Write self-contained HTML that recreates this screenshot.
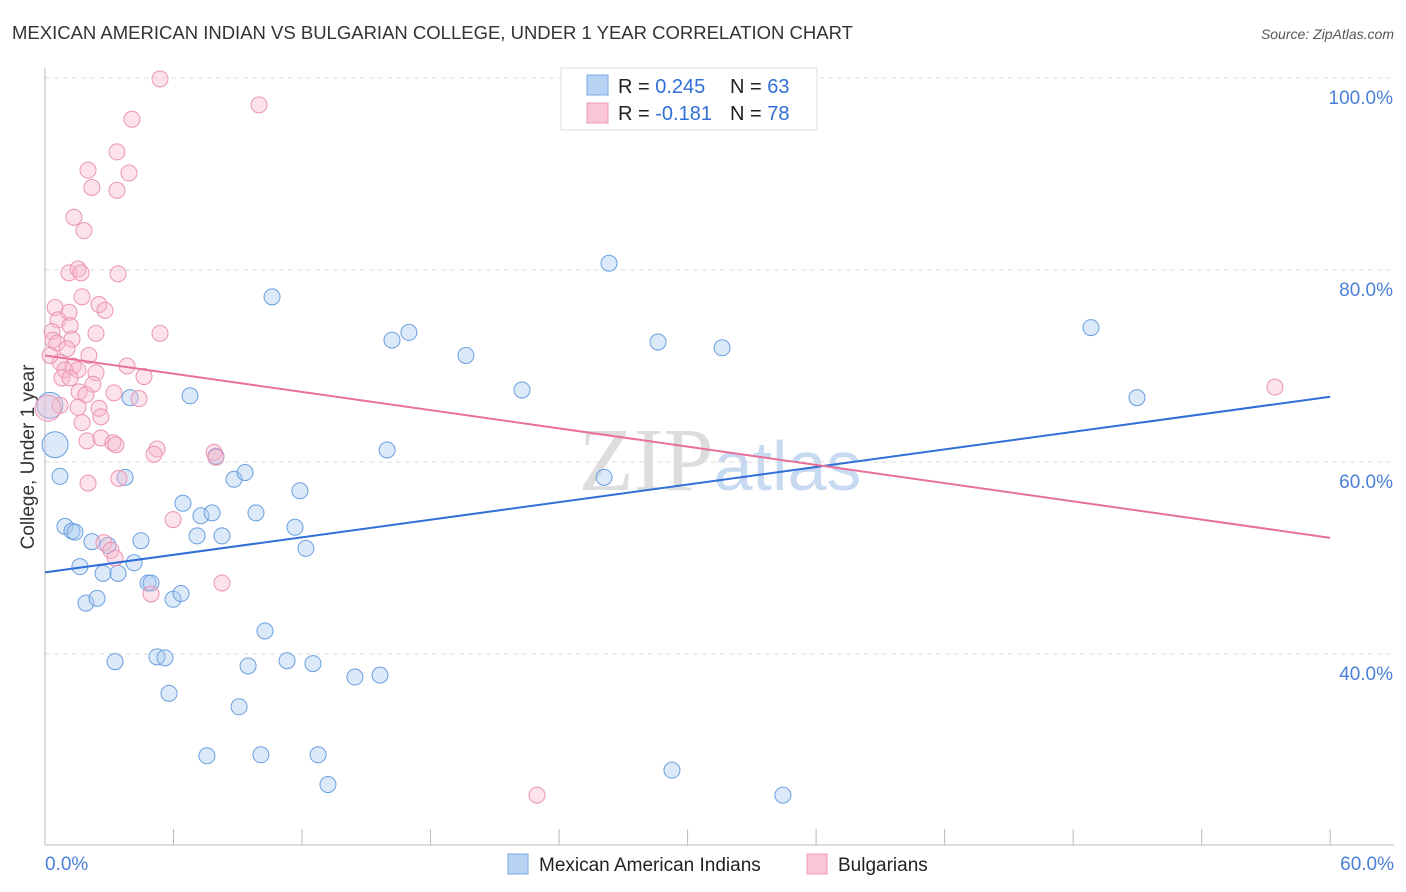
<!DOCTYPE html>
<html><head><meta charset="utf-8"><style>
body{margin:0;background:#fff;font-family:"Liberation Sans",sans-serif}
svg{display:block}
</style></head><body>
<svg id="c" width="1406" height="892">
<text x="12" y="39" font-size="18.5" fill="#333">MEXICAN AMERICAN INDIAN VS BULGARIAN COLLEGE, UNDER 1 YEAR CORRELATION CHART</text>
<text x="1394" y="39" font-size="14" fill="#555" font-style="italic" text-anchor="end">Source: ZipAtlas.com</text>
<text x="34" y="457" font-size="19" fill="#333" text-anchor="middle" transform="rotate(-90 34 457)">College, Under 1 year</text>
<text x="720" y="490" font-size="90" fill="#ddd" text-anchor="middle" font-family="Liberation Serif">ZIP<tspan fill="#c8daf2" font-family="Liberation Sans" font-size="70">atlas</tspan></text>
<g id="grid"></g><g id="pts"></g><g id="trend"></g>
<g>
<rect x="561" y="68" width="256" height="62" fill="#fff" stroke="#ddd"/>
<rect x="587" y="75" width="21" height="20" fill="#b8d2f4" stroke="#7aa8e4"/>
<rect x="587" y="103" width="21" height="20" fill="#f9c6d6" stroke="#eb98b4"/>
<text x="618" y="93" font-size="20" fill="#222">R = <tspan fill="#2f6fd6">0.245</tspan><tspan x="730">N = </tspan><tspan fill="#2f6fd6">63</tspan></text>
<text x="618" y="120" font-size="20" fill="#222">R = <tspan fill="#2f6fd6">-0.181</tspan><tspan x="730">N = </tspan><tspan fill="#2f6fd6">78</tspan></text>
</g>
<g>
<rect x="508" y="854" width="20" height="20" fill="#b8d2f4" stroke="#7aa8e4"/>
<text x="539" y="871" font-size="19" fill="#222">Mexican American Indians</text>
<rect x="807" y="854" width="20" height="20" fill="#f9c6d6" stroke="#eb98b4"/>
<text x="838" y="871" font-size="19" fill="#222">Bulgarians</text>
</g>
</svg>
<script>
const blueX=[0.23,0.47,0.7,0.93,1.26,1.4,1.63,1.91,2.19,2.43,2.71,2.94,3.27,3.41,3.74,3.97,4.16,4.48,4.81,4.95,5.23,5.6,5.79,5.98,6.35,6.44,6.77,7.1,7.28,7.56,7.8,7.98,8.26,8.82,9.06,9.34,9.48,9.85,10.08,10.27,10.6,11.3,11.67,11.9,12.18,12.51,12.75,13.21,14.47,15.64,15.97,16.2,16.99,19.65,22.27,26.1,26.33,28.62,29.27,31.61,34.45,48.83,50.98];
const blueY=[65.9,61.8,58.5,53.3,52.8,52.7,49.1,45.3,51.7,45.8,48.4,51.3,39.2,48.4,58.4,66.7,49.5,51.8,47.4,47.4,39.7,39.6,35.9,45.7,46.3,55.7,66.9,52.3,54.4,29.4,54.7,60.6,52.3,58.2,34.5,58.9,38.75,54.7,29.5,42.4,77.2,39.3,53.2,57.0,51.0,39.0,29.5,26.4,37.6,37.8,61.25,72.7,73.5,71.1,67.5,58.4,80.7,72.5,27.9,71.9,25.3,74.0,66.7];
const pinkX=[5.37,9.99,4.06,3.36,2.01,3.92,2.19,3.36,1.35,1.82,1.12,1.54,1.68,3.41,1.73,0.47,2.52,1.12,2.8,0.61,1.17,0.33,2.38,5.37,1.26,0.37,0.56,1.03,2.05,3.83,0.7,1.31,0.93,1.54,2.38,0.79,1.17,4.62,2.24,1.59,1.91,3.22,4.39,0.7,1.54,2.52,2.61,1.73,1.96,2.61,3.17,3.31,5.23,5.09,7.89,7.98,3.45,2.01,2.75,3.08,3.27,5.98,8.26,4.95,22.97,57.42,0.14,0.23];
const pinkY=[99.9,97.2,95.7,92.3,90.4,90.1,88.6,88.3,85.5,84.1,79.7,80.1,79.7,79.6,77.2,76.1,76.4,75.6,75.8,74.8,74.2,73.6,73.4,73.4,72.8,72.7,72.4,71.8,71.1,70.0,70.4,70.0,69.6,69.6,69.3,68.75,68.75,68.9,68.1,67.3,67.0,67.2,66.6,65.9,65.7,65.6,64.7,64.1,62.2,62.5,62.0,61.8,61.35,60.8,61.0,60.5,58.3,57.8,51.6,50.8,50.0,54.0,47.4,46.25,25.3,67.8,65.6,71.1];
const blueTrend=[48.5,66.8];
const pinkTrend=[71.1,52.1];
const yTicks=[100,80,60,40];
const xTickVals=[0,6,12,18,24,30,36,42,48,54,60];
const NS="http://www.w3.org/2000/svg";
const X=v=>45+v*21.42, Y=v=>78+(100-v)*9.6;
function mk(t,a,p){const e=document.createElementNS(NS,t);for(const k in a)e.setAttribute(k,a[k]);p.appendChild(e);return e;}
const grid=document.getElementById('grid');
yTicks.forEach(v=>{
 const l=mk('line',{x1:45,x2:1394,y1:Y(v),y2:Y(v),stroke:'#ddd','stroke-dasharray':'5,4'},grid);
 
 
 const t=mk('text',{x:1393,y:Y(v)+26,'font-size':19,fill:'#4a80d8','text-anchor':'end'},grid);
 t.textContent=v.toFixed(1)+'%';
 
 
});
mk('line',{x1:45,x2:45,y1:68,y2:845,stroke:'#bbb'},grid);
mk('line',{x1:45,x2:1394,y1:845,y2:845,stroke:'#bbb'},grid);
xTickVals.forEach(v=>{const l=mk('line',{x1:X(v),x2:X(v),y1:829,y2:845,stroke:'#bbb'},grid);
 
 });
[[0,'0.0%','start',45],[60,'60.0%','end',1394]].forEach(d=>{const t=mk('text',{x:d[3],y:870,'font-size':19,fill:'#4a80d8','text-anchor':d[2]},grid);t.textContent=d[1];
 
 });
const pts=document.getElementById('pts');
function draw(xs,ys,fill,stroke,name){xs.forEach((x,i)=>{const big=(i<2&&name==='blue-point')||(name==='pink-point'&&i===xs.length-2);
 const c=mk('circle',{cx:X(x),cy:Y(ys[i]),r:big?13:8,fill:fill,'fill-opacity':0.4,stroke:stroke,'stroke-width':1},pts);
 
 });}
draw(blueX,blueY,'#a8c8f0','#6a9fe0','blue-point');
draw(pinkX,pinkY,'#f7b8cc','#eb94b2','pink-point');
const tr=document.getElementById('trend');
const b=mk('line',{x1:X(0),y1:Y(blueTrend[0]),x2:X(60),y2:Y(blueTrend[1]),stroke:'#2f6fd6','stroke-width':2},tr);


const p=mk('line',{x1:X(0),y1:Y(pinkTrend[0]),x2:X(60),y2:Y(pinkTrend[1]),stroke:'#e8709a','stroke-width':2},tr);


</script>
</body></html>
